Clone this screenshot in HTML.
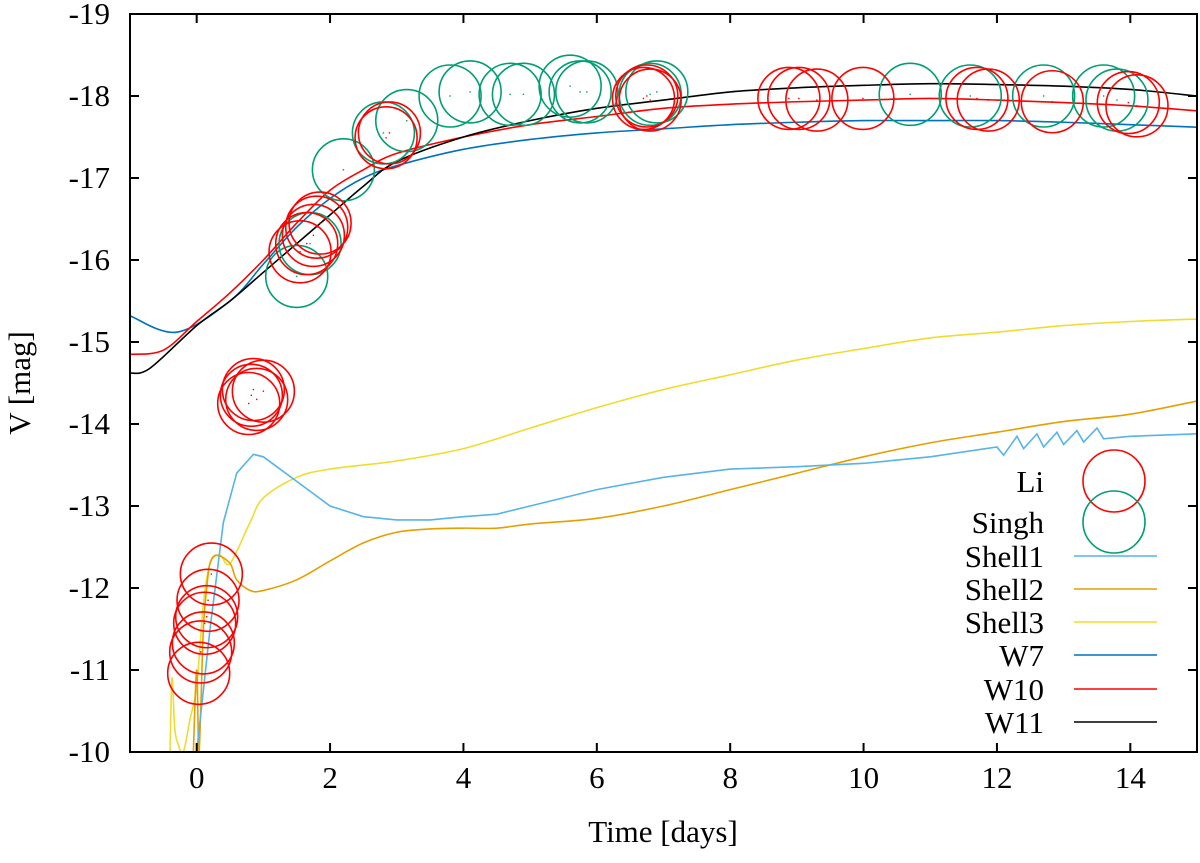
<!DOCTYPE html>
<html><head><meta charset="utf-8"><style>
body{margin:0;background:#fff}
svg text{font-family:"Liberation Serif",serif;font-size:31px;fill:#000}
</style></head><body>
<svg id="chart" width="1200" height="858" xmlns="http://www.w3.org/2000/svg"></svg>
<script>
const xTicks=[0,2,4,6,8,10,12,14];
const yTicks=[-19,-18,-17,-16,-15,-14,-13,-12,-11,-10];
const liT=[0.03,0.06,0.1,0.12,0.15,0.17,0.22,0.78,0.82,0.85,0.9,1.0,1.55,1.65,1.75,1.8,1.85,2.84,2.89,6.7,6.75,6.8,8.88,9.03,9.3,9.99,11.7,11.87,12.83,13.97,14.1];
const liM=[-10.96,-11.22,-11.33,-11.57,-11.65,-11.85,-12.17,-14.25,-14.35,-14.42,-14.3,-14.4,-16.1,-16.2,-16.3,-16.4,-16.45,-17.49,-17.55,-17.97,-18.0,-17.95,-17.97,-17.97,-17.95,-17.97,-17.97,-17.95,-17.93,-17.92,-17.88];
const sgT=[1.5,1.7,2.2,2.8,3.15,3.8,4.1,4.7,4.9,5.6,5.75,5.85,6.8,6.9,10.7,11.6,12.7,13.6,13.8];
const sgM=[-15.8,-16.2,-17.1,-17.55,-17.7,-18.0,-18.05,-18.02,-18.02,-18.12,-18.05,-18.05,-18.02,-18.05,-18.02,-18.0,-18.0,-18.0,-17.95];
const w7T=[-1,-0.3,0.5,1,1.5,2,2.5,3,4,5,6,7,8,9,10,11,12,13,14,15];
const w7M=[-15.32,-15.12,-15.5,-15.95,-16.4,-16.75,-17.0,-17.15,-17.35,-17.47,-17.55,-17.6,-17.65,-17.68,-17.7,-17.7,-17.7,-17.68,-17.65,-17.62];
const w10T=[-1,-0.5,0,0.5,1,1.5,2,2.5,3,4,5,6,7,8,9,10,11,12,13,14,15];
const w10M=[-14.85,-14.9,-15.25,-15.6,-16.0,-16.45,-16.85,-17.1,-17.3,-17.5,-17.65,-17.75,-17.85,-17.9,-17.93,-17.95,-17.97,-17.95,-17.92,-17.88,-17.82];
const w11T=[-1,-0.7,0,0.5,1,1.5,2,2.5,3,4,5,6,7,8,9,10,11,12,13,14,15];
const w11M=[-14.62,-14.68,-15.2,-15.5,-15.85,-16.2,-16.55,-16.9,-17.2,-17.5,-17.7,-17.85,-17.95,-18.05,-18.1,-18.13,-18.15,-18.14,-18.12,-18.08,-18.0];
const s1T=[0,0.2,0.4,0.6,0.85,1,1.5,2,2.5,3,3.5,4,4.5,5,6,7,8,9,10,11,12,12.1,12.3,12.4,12.6,12.7,12.9,13.0,13.2,13.3,13.5,13.6,14,15];
const s1M=[-10,-11.5,-12.8,-13.4,-13.63,-13.6,-13.3,-13.0,-12.87,-12.83,-12.83,-12.87,-12.9,-13.0,-13.2,-13.35,-13.45,-13.48,-13.52,-13.6,-13.72,-13.62,-13.85,-13.7,-13.88,-13.72,-13.9,-13.75,-13.92,-13.78,-13.95,-13.82,-13.85,-13.88];
const s2T=[-0.05,0,0.03,0.06,0.1,0.15,0.2,0.3,0.5,0.6,0.8,1,1.5,2,2.5,3,3.5,4,4.5,5,6,7,8,9,10,11,12,13,14,15];
const s2M=[-10,-11.0,-10,-10.5,-11.5,-12.0,-12.3,-12.4,-12.3,-12.1,-11.97,-11.97,-12.1,-12.33,-12.55,-12.68,-12.72,-12.73,-12.73,-12.78,-12.85,-13.0,-13.2,-13.4,-13.6,-13.77,-13.9,-14.03,-14.12,-14.28];
const s3T=[-0.4,-0.37,-0.33,-0.28,-0.2,-0.1,0,0.1,0.2,0.35,0.5,0.8,1,1.5,2,3,4,5,6,7,8,9,10,11,12,13,14,15];
const s3M=[-10,-10.9,-10.3,-10.1,-10,-10.4,-10.8,-11.8,-12.3,-12.4,-12.3,-12.8,-13.1,-13.35,-13.45,-13.55,-13.7,-13.95,-14.2,-14.42,-14.6,-14.78,-14.92,-15.05,-15.12,-15.2,-15.25,-15.28];

const L=130,R=1197,T=14,B=752;
const X=t=>L+(t+1)/16*(R-L);
const Y=m=>B-(-10-m)/9*(B-T);
const NS="http://www.w3.org/2000/svg";
const svg=document.getElementById('chart');
function mk(tag,at,parent){const e=document.createElementNS(NS,tag);for(const k in at)e.setAttribute(k,at[k]);(parent||svg).appendChild(e);return e;}

const clip=mk('clipPath',{id:'pc'});mk('rect',{x:L,y:T,width:R-L,height:B-T},clip);
const plot=mk('g',{'clip-path':'url(#pc)'});

function smoothPath(P){
  let d='M'+P[0][0]+','+P[0][1];
  for(let i=0;i<P.length-1;i++){
    const p0=P[Math.max(0,i-1)],p1=P[i],p2=P[i+1],p3=P[Math.min(P.length-1,i+2)];
    const k=1/6;
    d+=' C'+(p1[0]+(p2[0]-p0[0])*k)+','+(p1[1]+(p2[1]-p0[1])*k)+' '+(p2[0]-(p3[0]-p1[0])*k)+','+(p2[1]-(p3[1]-p1[1])*k)+' '+p2[0]+','+p2[1];
  }
  return d;
}
function line(ts,ms,color,name,smooth){
  const P=ts.map((t,i)=>[X(t),Y(ms[i])]);
  const d=smooth?smoothPath(P):'M'+P.map(p=>p.join(',')).join(' L');
  const p=mk('path',{d:d,fill:'none',stroke:color,'stroke-width':1.6},plot);
  
  
}
line(s3T,s3M,'#f0dc30','shell3-line',true);
line(s2T,s2M,'#e69f00','shell2-line',true);
line(s1T,s1M,'#56b4e9','shell1-line',false);
line(w7T,w7M,'#0072bd','w7-line',true);
line(w10T,w10M,'#ff0000','w10-line',true);
line(w11T,w11M,'#000000','w11-line',true);

function pts(ts,ms,color,name){
  const g=mk('g',{},plot);
  
  
  ts.forEach((t,i)=>{
    const c=mk('circle',{cx:X(t),cy:Y(ms[i]),r:31,fill:'none',stroke:color,'stroke-width':1.6},g);
    
    
    mk('rect',{x:X(t)-0.7,y:Y(ms[i])-0.7,width:1.4,height:1.4,fill:color},g);
  });
}
pts(sgT,sgM,'#009e73','singh-points');
pts(liT,liM,'#ff0000','li-points');

const frame=mk('rect',{x:L,y:T,width:R-L,height:B-T,fill:'none',stroke:'#000','stroke-width':2});


xTicks.forEach(v=>{
  const x=X(v);
  mk('line',{x1:x,y1:B,x2:x,y2:B-9,stroke:'#000','stroke-width':2});
  mk('line',{x1:x,y1:T,x2:x,y2:T+9,stroke:'#000','stroke-width':2});
  const tx=mk('text',{x:x,y:B+36,'text-anchor':'middle'});tx.textContent=v;
  
  
});
yTicks.forEach(v=>{
  const y=Y(v);
  mk('line',{x1:L,y1:y,x2:L+9,y2:y,stroke:'#000','stroke-width':2});
  mk('line',{x1:R,y1:y,x2:R-9,y2:y,stroke:'#000','stroke-width':2});
  const tx=mk('text',{x:L-20,y:y+10,'text-anchor':'end'});tx.textContent=v;
  
  
});
const xt=mk('text',{x:663,y:842,'text-anchor':'middle'});xt.textContent='Time [days]';


const yt=mk('text',{x:30,y:383,'text-anchor':'middle',transform:'rotate(-90 30 383)'});yt.textContent='V [mag]';



const leg=[['Li','#ff0000',481,'c'],['Singh','#009e73',522,'c'],['Shell1','#56b4e9',556,'l'],['Shell2','#e69f00',589,'l'],['Shell3','#f0dc30',622,'l'],['W7','#0072bd',655,'l'],['W10','#ff0000',689,'l'],['W11','#000000',722,'l']];
leg.forEach(e=>{
  const g=mk('g',{});
  
  
  const tx=mk('text',{x:1044,y:e[2]+11,'text-anchor':'end'},g);tx.textContent=e[0];
  if(e[3]==='c'){mk('circle',{cx:1114,cy:e[2],r:31,fill:'none',stroke:e[1],'stroke-width':1.6},g);}
  else mk('line',{x1:1074,y1:e[2],x2:1157,y2:e[2],stroke:e[1],'stroke-width':1.6},g);
});
</script>
</body></html>
